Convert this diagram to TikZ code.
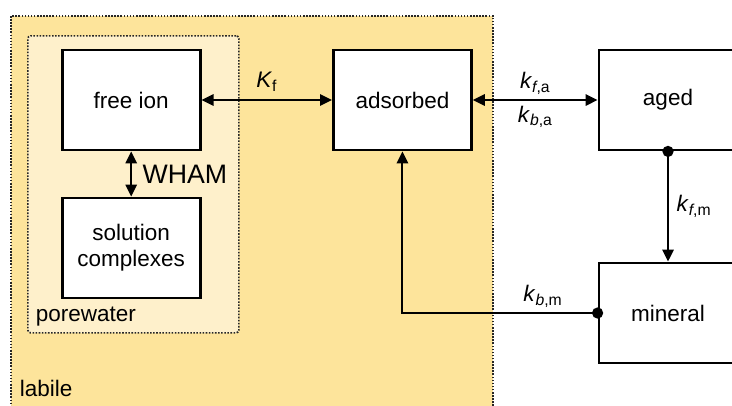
\documentclass[tikz,border=0pt]{standalone}
\usepackage{fontspec}
\setmainfont{Liberation Sans}
\usetikzlibrary{arrows.meta}
\definecolor{labilefill}{HTML}{FDE49B}
\definecolor{porefill}{HTML}{FEF0CB}
\begin{document}
\begin{tikzpicture}[font=\fontsize{16}{18.5}\selectfont, line width=1.5pt, >={Triangle[length=8.5pt,width=8pt]},
  pool/.style={draw, fill=white, line width=2pt, minimum width=3.45cm, minimum height=2.5cm, align=center},
  zone/.style={draw=black!85, dash pattern=on 1.1pt off 1.1pt, line width=1.2pt, inner sep=0pt, anchor=north west},
  joint/.style={circle, fill, inner sep=0pt, minimum size=8pt}]
  \clip (0,0) rectangle (18.3,-10.125);
  \node[zone, fill=labilefill, minimum width=12.05cm, minimum height=11cm] (labile) at (0.25,-0.375) {};
  \node[zone, fill=porefill, rounded corners=2pt, minimum width=5.275cm, minimum height=7.425cm] (porewater) at (0.675,-0.875) {};
  \node[anchor=west, inner sep=2pt] (porelabel) at (0.8,-7.925) {porewater};
  \node[anchor=west, inner sep=2pt] (labilelabel) at (0.4,-9.7) {labile};
  \node[pool] (ion) at (3.28,-2.5) {free ion};
  \node[pool] (complex) at (3.28,-6.2) {solution\\complexes};
  \node[pool] (adsorbed) at (10.06,-2.5) {adsorbed};
  \node[pool] (aged) at (16.7,-2.5) {aged};
  \node[pool] (mineral) at (16.7,-7.825) {mineral};
  \node[joint] (agedout) at (aged.south) {};
  \node[joint] (minout) at (mineral.west) {};
  \draw[<->] (ion) -- node[above=2pt] {\textit{K}\textsubscript{f}} (adsorbed);
  \draw[<->] (ion) -- node[right=4pt, font=\fontsize{19}{21}\selectfont] {WHAM} (complex);
  \draw[<->] (adsorbed) -- node[above] {\textit{k}\textsubscript{\textit{f},a}} node[below] {\textit{k}\textsubscript{\textit{b},a}} (aged);
  \draw[->] (agedout.center) -- node[right=2pt] {\textit{k}\textsubscript{\textit{f},m}} (mineral);
  \draw[->] (minout.center) -| node[pos=0.14, above] {\textit{k}\textsubscript{\textit{b},m}} (adsorbed);
\end{tikzpicture}
\end{document}
